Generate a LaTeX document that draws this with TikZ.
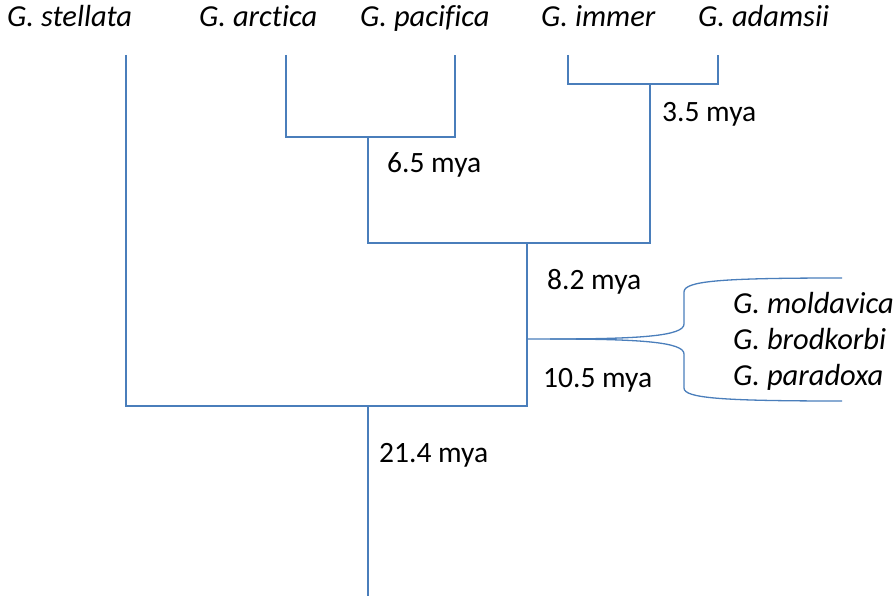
\documentclass[tikz,border=0pt]{standalone}
\usepackage{fontspec}
\setmainfont{Carlito}[Ligatures=NoCommon]
\definecolor{treeblue}{HTML}{4A7EBB}
\begin{document}
\begin{tikzpicture}[x=1pt,y=-1pt,
  branch/.style={draw=treeblue, line width=1.3pt},
  taxon/.style={font=\fontsize{30.5}{33}\selectfont\itshape, inner sep=0pt, anchor=base west},
  age/.style={font=\fontsize{29.5}{32}\selectfont, inner sep=0pt, anchor=base west},
  group/.style={font=\fontsize{30.5}{33}\selectfont\itshape, inner sep=0pt, anchor=base west}]
\useasboundingbox (0,0) rectangle (894,596);

% species at the tips
\node[taxon] (stel) at (7,27) {G. stellata};
\node[taxon] (arct) at (199,27) {G. arctica};
\node[taxon] (paci) at (360,27) {G. pacifica};
\node[taxon] (imme) at (541,27) {G. immer};
\node[taxon] (adam) at (698,27) {G. adamsii};

% tip coordinates
\coordinate (tStel) at (126,55);
\coordinate (tArct) at (286,55);
\coordinate (tPaci) at (455,55);
\coordinate (tImme) at (568,55);
\coordinate (tAdam) at (718,55);

% internal nodes
\coordinate (nAP) at (368,137);
\coordinate (nIA) at (650,84);
\coordinate (nAPIA) at (527,243);
\coordinate (nHub) at (527,339);
\coordinate (nRoot) at (368,406);
\coordinate (base) at (368,596);

% arctica + pacifica
\draw[branch] (tArct) |- (nAP) -| (tPaci);
% immer + adamsii
\draw[branch] (tImme) |- (nIA) -| (tAdam);
% join of the two pairs
\draw[branch] (nAP) |- (nAPIA);
\draw[branch] (nIA) -- (650,243) -- (nAPIA);
% stem to the root
\draw[branch] (nAPIA) |- (nRoot);
\draw[branch] (tStel) |- (nRoot);
\draw[branch] (nRoot) -- (base);

% brace round the fossil species
\draw[branch] (nHub) -- (550,339)
  .. controls (640,339) and (684,336) .. (684,324) -- (684,292)
  .. controls (684,281) and (720,278) .. (842,278);
\draw[branch] (550,339)
  .. controls (640,339) and (684,342) .. (684,354) -- (684,388)
  .. controls (684,398) and (720,401) .. (842,401);

% ages
\node[age] (a35) at (662,122) {3.5 mya};
\node[age] (a65) at (387,173) {6.5 mya};
\node[age] (a82) at (547,289) {8.2 mya};
\node[age] (a105) at (543,387) {10.5 mya};
\node[age] (a214) at (379,462) {21.4 mya};

% fossil species
\node[group] (mold) at (733,313) {G. moldavica};
\node[group] (brod) at (733,349) {G. brodkorbi};
\node[group] (para) at (733,385) {G. paradoxa};
\end{tikzpicture}
\end{document}
